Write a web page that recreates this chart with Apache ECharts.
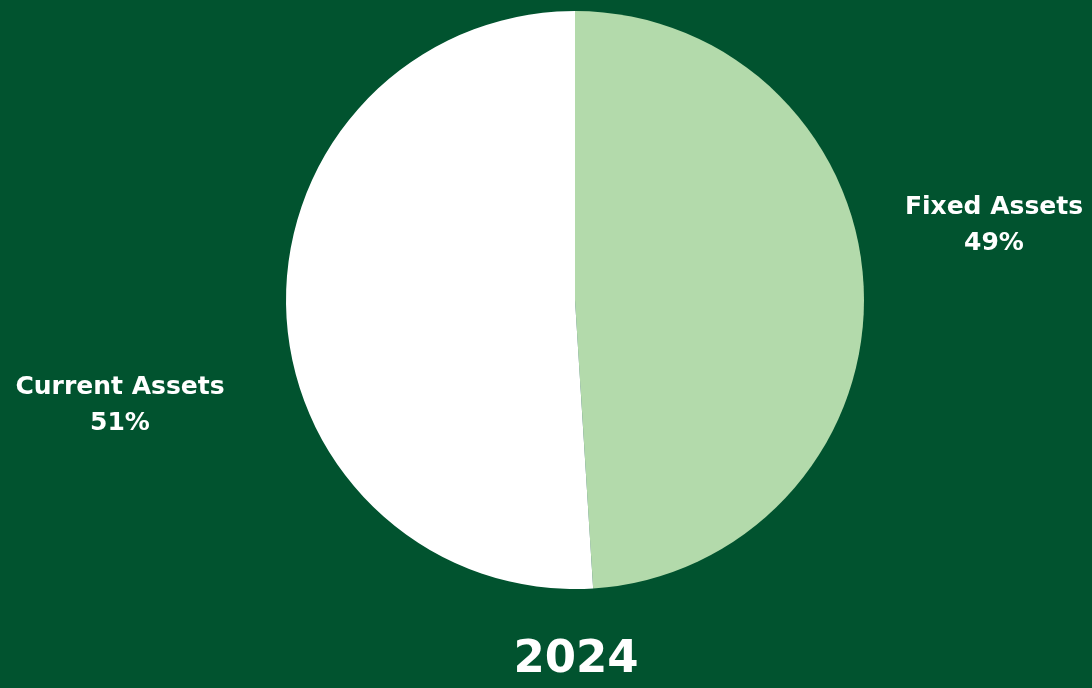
<!DOCTYPE html>
<html>
<head>
<meta charset="utf-8">
<script src="https://cdn.jsdelivr.net/npm/echarts@6/dist/echarts.min.js"></script>
<style>
  html, body { margin: 0; padding: 0; background: #01532F; }
  #chart { width: 1092px; height: 688px; }
</style>
</head>
<body>
<div id="chart"></div>
<script>
// asset split for the year
const categories = ['Fixed Assets', 'Current Assets']
const shares = [49, 51]
const sliceColors = ['#B3DAAB', '#FFFFFF']
const yearLabel = '2024'

// pie placement, the year sits under its centre
const pieCenter = [575, 300]
const pieRadius = 289

// where each label sits (centre of the text block)
const labelSpots = [
  { x: 994, y: 225 },
  { x: 120, y: 405 }
]

const fontName = 'DejaVu Sans'
const chart = echarts.init(document.getElementById('chart'))

const option = {
  backgroundColor: '#01532F',
  animation: false,
  textStyle: { fontFamily: fontName },
  title: {
    text: yearLabel,
    left: pieCenter[0] - 4,
    textAlign: 'center',
    top: 633,
    textStyle: {
      color: '#fff',
      fontSize: 45,
      fontWeight: 'bold',
      fontFamily: fontName
    }
  },
  series: [
    {
      type: 'pie',
      center: pieCenter,
      radius: [0, pieRadius],
      startAngle: 90,
      clockwise: true,
      data: categories.map((name, i) => ({
        name,
        value: shares[i],
        itemStyle: { color: sliceColors[i] }
      })),
      label: {
        show: true,
        position: 'outside',
        formatter: p => `${p.name}\n${p.value}%`,
        color: '#fff',
        fontSize: 25,
        fontWeight: 'bold',
        fontFamily: fontName,
        lineHeight: 36,
        align: 'center',
        overflow: 'none'
      },
      labelLine: { show: false },
      labelLayout: params => ({
        x: labelSpots[params.dataIndex].x,
        y: labelSpots[params.dataIndex].y,
        align: 'center',
        verticalAlign: 'middle'
      })
    }
  ]
}

chart.setOption(option)
</script>
</body>
</html>
